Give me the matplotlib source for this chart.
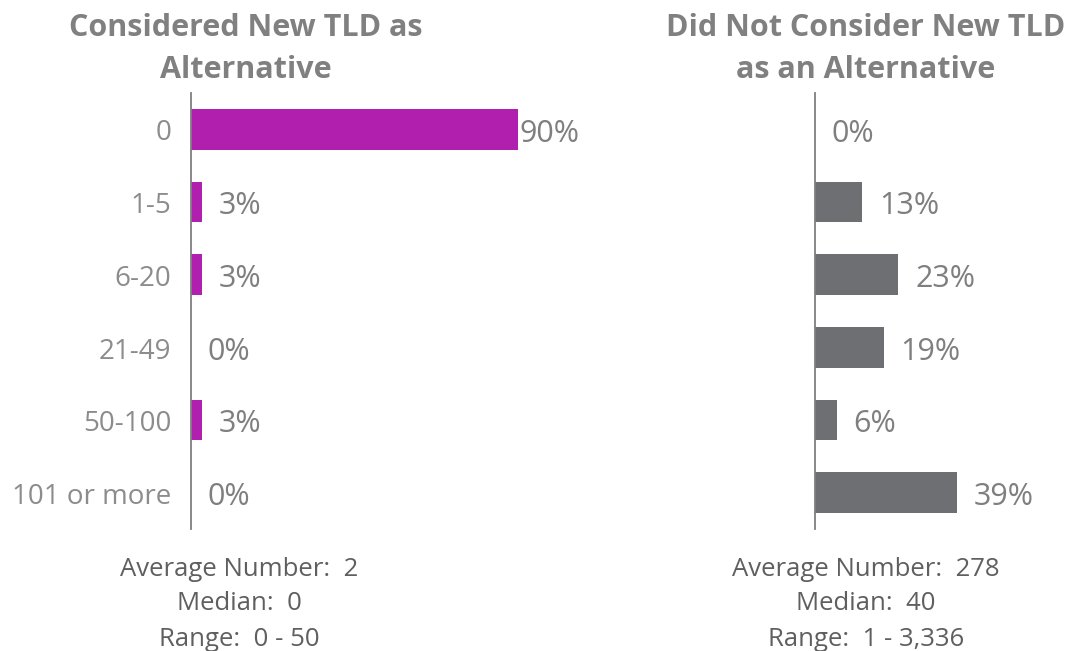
import matplotlib.pyplot as plt

# data
categories = ["0", "1-5", "6-20", "21-49", "50-100", "101 or more"]
considered = [90, 3, 3, 0, 3, 0]
not_considered = [0, 13, 23, 19, 6, 39]

title_left = "Considered New TLD as\nAlternative"
title_right = "Did Not Consider New TLD\nas an Alternative"
stats_left = ["Average Number:  2", "Median:  0", "Range:  0 - 50"]
stats_right = ["Average Number:  278", "Median:  40", "Range:  1 - 3,336"]

plt.rcParams['font.family'] = ['Open Sans', 'DejaVu Sans']

W, H = 1074, 651
fig = plt.figure(figsize=(W / 100, H / 100), dpi=100)

px_per_pct = 3.63
ax_bottom = 1 - 529 / H
ax_height = 436 / H


def panel(x0, width_px, values, color, show_cats):
    ax = fig.add_axes([x0 / W, ax_bottom, width_px / W, ax_height])
    y = list(range(len(categories)))
    ax.barh(y, values, height=0.56, color=color)
    ax.set_ylim(len(categories) - 0.5, -0.5)
    ax.set_xlim(0, width_px / px_per_pct)
    for s in ["top", "right", "bottom"]:
        ax.spines[s].set_visible(False)
    ax.spines["left"].set_color("#7f7f7f")
    ax.spines["left"].set_linewidth(1.3)
    ax.set_xticks([])
    ax.set_yticks([])
    for yi, v in zip(y, values):
        if show_cats:
            # category labels sit a touch below the bar centre, like the original
            ax.annotate(categories[yi], (0, yi), xytext=(-14, -3), textcoords="offset points",
                        ha="right", va="center", fontsize=20, color="#8c8c8c",
                        annotation_clip=False)
        off = 1 if v > 80 else 12
        ax.annotate(f"{v}%", (v, yi), xytext=(off, -3), textcoords="offset points",
                    ha="left", va="center", fontsize=22, color="#7f7f7f",
                    annotation_clip=False)
    return ax


panel(191, 363, considered, "#b01fae", True)
panel(815, 259, not_considered, "#6e6f73", False)

# titles
fig.text(246 / W, 1 - 49 / H, title_left, ha="center", va="center", fontsize=22,
         fontweight="bold", color="#808080", linespacing=1.55)
fig.text(866 / W, 1 - 49 / H, title_right, ha="center", va="center", fontsize=22,
         fontweight="bold", color="#808080", linespacing=1.55)

# summary stats under each chart
for i, (a, b) in enumerate(zip(stats_left, stats_right)):
    yy = 1 - (569 + i * 35) / H
    fig.text(239 / W, yy, a, ha="center", va="center", fontsize=18.5, color="#5f5f5f")
    fig.text(866 / W, yy, b, ha="center", va="center", fontsize=18.5, color="#5f5f5f")

fig.savefig("out.png", dpi=100)
